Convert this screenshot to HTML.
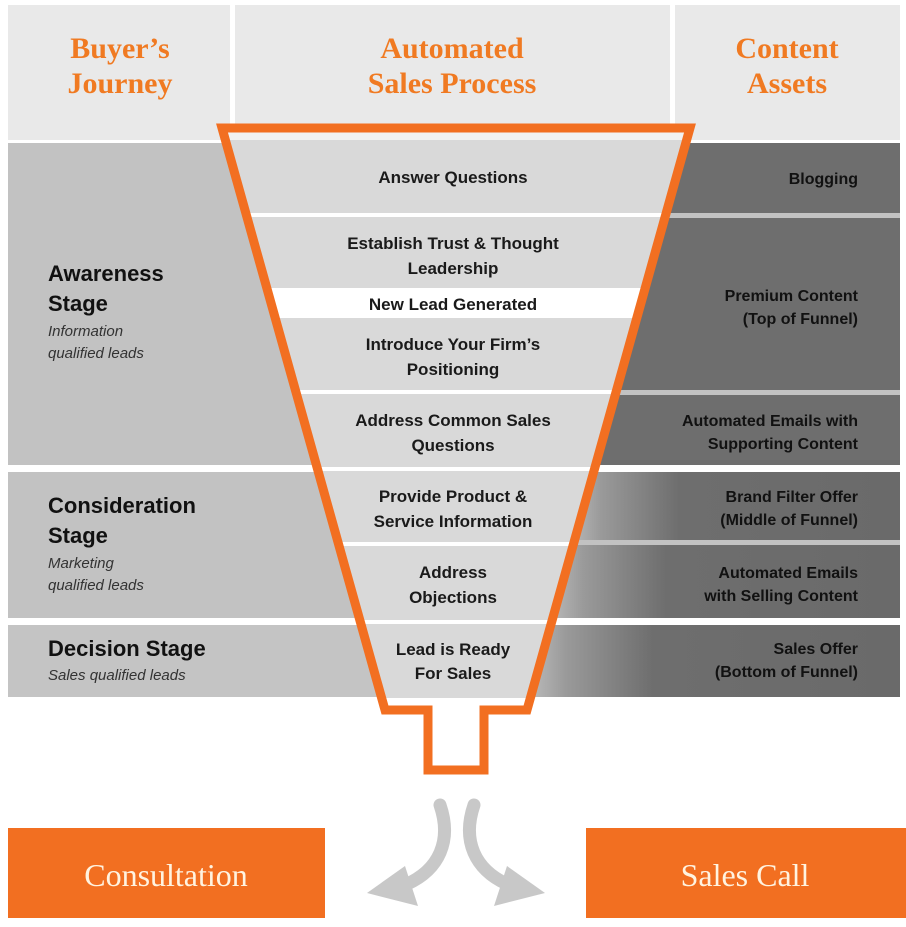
<!DOCTYPE html>
<html><head><meta charset="utf-8"><style>
body{margin:0;background:#fff}
svg{display:block}
.s{font-family:"Liberation Sans",sans-serif;font-weight:bold;font-size:17px;fill:#1a1a1a}
.h{font-family:"Liberation Serif",serif;font-weight:bold;font-size:30px;fill:#f07a22}
.st{font-family:"Liberation Sans",sans-serif;font-weight:bold;font-size:22px;fill:#111}
.it{font-family:"Liberation Sans",sans-serif;font-style:italic;font-size:15px;fill:#333}
.r{font-family:"Liberation Sans",sans-serif;font-weight:bold;font-size:16px;fill:#111;text-anchor:end}
.b{font-family:"Liberation Serif",serif;font-size:32px;fill:#fff3e0;text-anchor:middle}
</style></head><body>
<svg width="906" height="927" viewBox="0 0 906 927">
<defs>
<linearGradient id="g" x1="0" x2="1"><stop offset="0" stop-color="#c4c4c4"/><stop offset="0.12" stop-color="#9a9a9a"/><stop offset="0.35" stop-color="#6e6e6e"/><stop offset="1" stop-color="#6a6a6a"/></linearGradient>
<clipPath id="fc"><path d="M222,128 L690,128 L527,710 L484,710 L484,770 L428,770 L428,710 L385,710 Z"/></clipPath>
</defs>
<rect x="8" y="5" width="222" height="135" fill="#e9e9e9"/>
<rect x="235" y="5" width="435" height="135" fill="#e9e9e9"/>
<rect x="675" y="5" width="225" height="135" fill="#e9e9e9"/>
<text class="h" x="120" y="58" text-anchor="middle">Buyer’s</text>
<text class="h" x="120" y="93" text-anchor="middle">Journey</text>
<text class="h" x="452" y="58" text-anchor="middle">Automated</text>
<text class="h" x="452" y="93" text-anchor="middle">Sales Process</text>
<text class="h" x="787" y="58" text-anchor="middle">Content</text>
<text class="h" x="787" y="93" text-anchor="middle">Assets</text>
<!-- left bands -->
<rect x="8" y="143" width="892" height="322" fill="#c2c2c2"/>
<rect x="8" y="472" width="892" height="146" fill="#c2c2c2"/>
<rect x="8" y="625" width="892" height="72" fill="#c4c4c4"/>
<!-- right bands -->
<rect x="640" y="143" width="260" height="70" fill="#6e6e6e"/>
<rect x="620" y="218" width="280" height="172" fill="#6e6e6e"/>
<rect x="600" y="395" width="300" height="70" fill="#6e6e6e"/>
<rect x="560" y="472" width="340" height="68" fill="url(#g)"/>
<rect x="540" y="545" width="360" height="73" fill="url(#g)"/>
<rect x="520" y="625" width="380" height="72" fill="url(#g)"/>
<!-- funnel fill -->
<g clip-path="url(#fc)">
<rect x="200" y="120" width="520" height="660" fill="#d9d9d9"/>
<rect x="200" y="130" width="520" height="10" fill="#f2f2f2"/>
<rect x="200" y="213" width="520" height="4" fill="#fff"/>
<rect x="200" y="288" width="520" height="30" fill="#fff"/>
<rect x="200" y="390" width="520" height="4" fill="#fff"/>
<rect x="200" y="467" width="520" height="4" fill="#fff"/>
<rect x="200" y="542" width="520" height="4" fill="#fff"/>
<rect x="200" y="620" width="520" height="4" fill="#fff"/>
<rect x="200" y="698" width="520" height="80" fill="#fff"/>
</g>
<path d="M222,128 L690,128 L527,710 L484,710 L484,770 L428,770 L428,710 L385,710 Z" fill="none" stroke="#f26f21" stroke-width="9" stroke-linejoin="miter"/>
<!-- funnel text -->
<g class="s" text-anchor="middle">
<text x="453" y="183">Answer Questions</text>
<text x="453" y="249">Establish Trust &amp; Thought</text>
<text x="453" y="274">Leadership</text>
<text x="453" y="310">New Lead Generated</text>
<text x="453" y="350">Introduce Your Firm’s</text>
<text x="453" y="375">Positioning</text>
<text x="453" y="426">Address Common Sales</text>
<text x="453" y="451">Questions</text>
<text x="453" y="502">Provide Product &amp;</text>
<text x="453" y="527">Service Information</text>
<text x="453" y="578">Address</text>
<text x="453" y="603">Objections</text>
<text x="453" y="655">Lead is Ready</text>
<text x="453" y="679">For Sales</text>
</g>
<!-- left labels -->
<text class="st" x="48" y="281">Awareness</text>
<text class="st" x="48" y="311">Stage</text>
<text class="it" x="48" y="336">Information</text>
<text class="it" x="48" y="358">qualified leads</text>
<text class="st" x="48" y="513">Consideration</text>
<text class="st" x="48" y="543">Stage</text>
<text class="it" x="48" y="568">Marketing</text>
<text class="it" x="48" y="590">qualified leads</text>
<text class="st" x="48" y="656">Decision Stage</text>
<text class="it" x="48" y="680">Sales qualified leads</text>
<!-- right labels -->
<text class="r" x="858" y="184">Blogging</text>
<text class="r" x="858" y="301">Premium Content</text>
<text class="r" x="858" y="324">(Top of Funnel)</text>
<text class="r" x="858" y="426">Automated Emails with</text>
<text class="r" x="858" y="449">Supporting Content</text>
<text class="r" x="858" y="502">Brand Filter Offer</text>
<text class="r" x="858" y="525">(Middle of Funnel)</text>
<text class="r" x="858" y="578">Automated Emails</text>
<text class="r" x="858" y="601">with Selling Content</text>
<text class="r" x="858" y="654">Sales Offer</text>
<text class="r" x="858" y="677">(Bottom of Funnel)</text>
<!-- arrows -->
<path d="M440,805 C452,840 440,870 405,885" fill="none" stroke="#c8c8c8" stroke-width="13" stroke-linecap="round"/>
<polygon points="367,893 405,866 418,906" fill="#c8c8c8"/>
<path d="M474,805 C462,840 474,870 509,885" fill="none" stroke="#c8c8c8" stroke-width="13" stroke-linecap="round"/>
<polygon points="545,893 507,866 494,906" fill="#c8c8c8"/>
<!-- boxes -->
<rect x="8" y="828" width="317" height="90" fill="#f26f21"/>
<rect x="586" y="828" width="320" height="90" fill="#f26f21"/>
<text class="b" x="166" y="886">Consultation</text>
<text class="b" x="745" y="886">Sales Call</text>
</svg>
</body></html>
